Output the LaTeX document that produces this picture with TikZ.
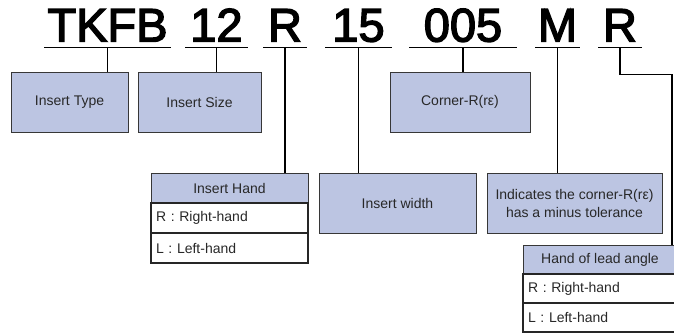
\documentclass[tikz,border=0pt]{standalone}
\usepackage{fontspec}
\setmainfont{Liberation Sans}
\newfontfamily\codefont[FakeBold=3]{Liberation Sans}
\usepackage{xcolor}
\usetikzlibrary{positioning}
\definecolor{boxfill}{RGB}{188,197,226}
\definecolor{boxline}{RGB}{55,55,55}
\definecolor{boxtext}{RGB}{40,40,40}
\tikzset{
    code/.style={anchor=south, inner xsep=0pt, inner ysep=6pt, outer sep=0pt, text depth=0pt, font=\codefont\fontsize{47}{50}\selectfont},
    uline/.style={line width=1.4pt},
    link/.style={line width=1.4pt},
    infobox/.style={draw=boxline, fill=boxfill, line width=0.8pt, minimum height=60pt, inner sep=2pt, align=center, text=boxtext, font=\fontsize{14}{18}\selectfont},
    headcell/.style={draw=boxline, fill=boxfill, line width=0.9pt, outer sep=0pt, inner sep=0pt, minimum height=30pt, text=boxtext, font=\fontsize{14}{16}\selectfont},
    rowcell/.style={draw=black!85, fill=white, line width=1.1pt, outer sep=0pt, inner xsep=5pt, inner ysep=0pt, minimum height=30pt, align=left, text=boxtext, font=\fontsize{14}{16}\selectfont}
}
\begin{document}
\begin{tikzpicture}[x=1pt, y=-1pt]
    \useasboundingbox (0,0) rectangle (674,333);
    % code letters
    \node[code, minimum width=127pt] (tkfb) at (107.5,47.5) {TKFB};
    \node[code, minimum width=63pt] (csize) at (216.5,47.5) {12};
    \node[code, minimum width=44pt] (chand) at (285,47.5) {R};
    \node[code, minimum width=67pt] (cwidth) at (358.5,47.5) {15};
    \node[code, minimum width=108pt] (ccorner) at (463,47.5) {005};
    \node[code, minimum width=45pt] (cminus) at (557.5,47.5) {M};
    \node[code, minimum width=44pt] (clead) at (620,47.5) {R};
    \foreach \n in {tkfb,csize,chand,cwidth,ccorner,cminus,clead}
        \draw[uline] (\n.south west) -- (\n.south east);

    % boxes
    \node[infobox, minimum width=117pt] (type) at (69.5,102) {Insert Type};
    \node[infobox, minimum width=123pt] (size) at (199.5,102) {Insert Size};
    \node[infobox, minimum width=140pt] (corner) at (460,102) {Corner-R(rε)};
    \node[infobox, minimum width=157pt] (width) at (397.5,203) {Insert width};
    \node[infobox, minimum width=175pt] (minus) at (574.5,203) {Indicates the corner-R(rε)\\has a minus tolerance};

    % tables
    \node[headcell, minimum width=157pt] (hand) at (229.5,188) {Insert Hand};
    \node[rowcell, text width=147pt, below=0pt of hand] (handr) {R : Right-hand};
    \node[rowcell, text width=147pt, below=0pt of handr] (handl) {L : Left-hand};

    \node[headcell, minimum width=154pt, minimum height=29pt] (lead) at (600,259.5) {Hand of lead angle};
    \node[rowcell, text width=144pt, minimum height=29pt, below=0pt of lead] (leadr) {R : Right-hand};
    \node[rowcell, text width=144pt, minimum height=29pt, below=0pt of leadr] (leadl) {L : Left-hand};

    % connectors
    \draw[link] (tkfb.south) -- (tkfb.south |- type.north);
    \draw[link] (csize.south) -- (csize.south |- size.north);
    \draw[link] (chand.south) -- (chand.south |- hand.north);
    \draw[link] (cwidth.south) -- (cwidth.south |- width.north);
    \draw[link] (ccorner.south) -- (ccorner.south |- corner.north);
    \draw[link] (cminus.south) -- (cminus.south |- minus.north);
    \coordinate (bend) at (672,74.5);
    \draw[link] (clead.south) |- (bend) -- (bend |- lead.north);
\end{tikzpicture}
\end{document}
